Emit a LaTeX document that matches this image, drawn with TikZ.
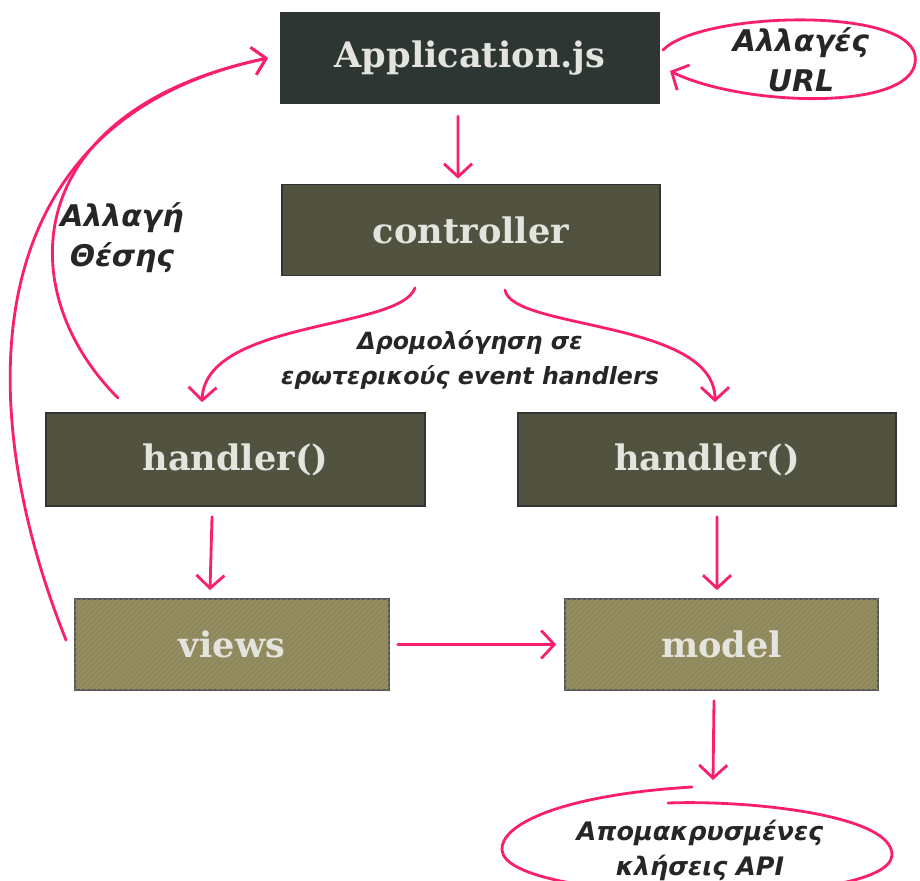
\documentclass[tikz,border=0pt]{standalone}
\usepackage{fontspec}
\usetikzlibrary{arrows.meta, patterns}

\newfontfamily\boxfont{DejaVu Serif}
\newfontfamily\notefont{DejaVu Sans}

\definecolor{linkpink}{RGB}{250,30,110}
\definecolor{appgray}{RGB}{46,54,52}
\definecolor{olivedark}{RGB}{82,82,64}
\definecolor{khaki}{RGB}{143,136,92}
\definecolor{khakiline}{RGB}{155,148,104}
\definecolor{chalk}{RGB}{228,228,222}
\definecolor{inkgray}{RGB}{38,38,38}

\begin{document}
\begin{tikzpicture}[
            x=0.02cm, y=-0.02cm,
            semithick
        ]

        \tikzstyle{block}=[
            draw=black!80, line width=1pt,
            shape=rectangle,
            minimum height=1.82cm,
            text=chalk,
            font=\boxfont\bfseries\fontsize{20}{24}\selectfont
        ]
        \tikzstyle{darkblock}=[block, fill=olivedark]
        \tikzstyle{lightblock}=[block, fill=khaki, draw=black!65,
            postaction={pattern=north east lines, pattern color=khakiline}]
        \tikzstyle{note}=[
            align=center,
            text=inkgray
        ]
        \tikzstyle{link}=[
            draw=linkpink, line width=1.6pt, line cap=round,
            -{Straight Barb[length=2.6mm,width=5.6mm,line width=1.6pt]}
        ]
        \tikzstyle{ringline}=[draw=linkpink, line width=1.6pt, line cap=round]

        \useasboundingbox (0,0) rectangle (920,881);

        % main boxes
        \node[block, fill=appgray, minimum width=7.56cm] (app) at (470,58) {Application.js};
        \node[darkblock, minimum width=7.56cm] (ctrl) at (471,230) {controller};
        \node[darkblock, minimum width=7.58cm, minimum height=1.86cm] (hl) at (235.5,459.5) {handler()};
        \node[darkblock, minimum width=7.56cm, minimum height=1.86cm] (hr) at (707,459.5) {handler()};
        \node[lightblock, minimum width=6.28cm] (views) at (232,644.5) {views};
        \node[lightblock, minimum width=6.26cm] (model) at (721.5,644.5) {model};

        % hand written notes
        \node[note, font=\notefont\bfseries\itshape\fontsize{17}{22.7}\selectfont] (url) at (801,60) {Αλλαγές\\URL};
        \node[note, font=\notefont\bfseries\itshape\fontsize{17}{22.7}\selectfont] (pos) at (122,238) {Αλλαγή\\Θέσης};
        \node[note, font=\notefont\bfseries\itshape\fontsize{13.5}{19.9}\selectfont] (route) at (470,360) {Δρομολόγηση σε\\ερωτερικούς event handlers};
        \node[note, font=\notefont\bfseries\itshape\fontsize{14.5}{19.9}\selectfont] (api) at (700,850) {Απομακρυσμένες\\κλήσεις API};

        % ends of the connectors
        \coordinate (appin) at (268,58);
        \coordinate (urlin) at (670,71);
        \coordinate (apiin) at (713,780);

        % flow
        \draw[link] ([xshift=-0.24cm,yshift=-0.24cm]app.south) -- ([xshift=-0.26cm,yshift=0.1cm]ctrl.north);
        \draw[link] (415,288) .. controls (400,330) and (205,320) .. ([xshift=-0.67cm,yshift=0.2cm]hl.north);
        \draw[link] (505,290) .. controls (512,330) and (715,320) .. ([xshift=0.16cm,yshift=0.2cm]hr.north);
        \draw[link] ([xshift=-0.47cm,yshift=-0.2cm]hl.south) -- ([xshift=-0.44cm,yshift=0.16cm]views.north);
        \draw[link] ([xshift=0.2cm,yshift=-0.2cm]hr.south) -- ([xshift=-0.09cm,yshift=0.16cm]model.north);
        \draw[link] ([xshift=0.16cm]views.east) -- ([xshift=-0.16cm]model.west);
        \draw[link] ([xshift=-0.15cm,yshift=-0.2cm]model.south) -- (apiin);

        % back to the router
        \draw[link] (118,398) .. controls (10,290) and (20,110) .. (appin);
        \draw[link] (66,640) .. controls (-30,400) and (-25,120) .. (appin);

        % rings round the notes
        \draw[link] (663,50) .. controls (700,12) and (905,6) .. (915,55)
            .. controls (925,112) and (745,108) .. (urlin);
        \draw[ringline] (692,787) .. controls (560,795) and (500,825) .. (502,850)
            .. controls (505,905) and (890,910) .. (892,855)
            .. controls (893,815) and (750,800) .. (668,803);

    \end{tikzpicture}
\end{document}
